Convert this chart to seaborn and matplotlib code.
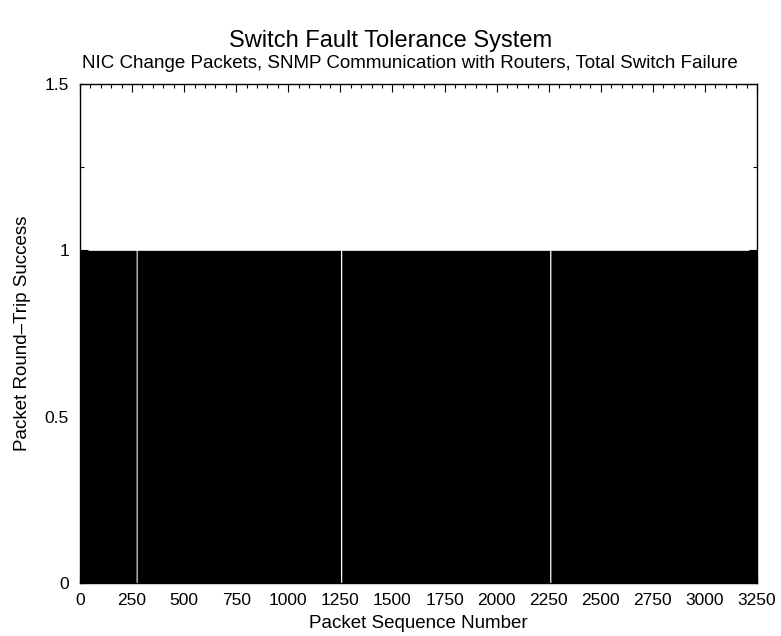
import numpy as np
import pandas as pd
import matplotlib
matplotlib.use("Agg")
import matplotlib.pyplot as plt
from matplotlib.ticker import MultipleLocator
import seaborn as sns

# Packet sequence range and the packets that failed their round trip
first_packet = 1
last_packet = 3250
lost_packets = [270, 271, 272, 273, 274,
                1251, 1252, 1253, 1254, 1255, 1256,
                2255, 2256, 2257, 2258, 2259, 2260]

x_ticks = [0, 250, 500, 750, 1000, 1250, 1500, 1750, 2000, 2250, 2500, 2750, 3000, 3250]
y_ticks = [0, 0.5, 1, 1.5]
y_tick_labels = ["0", "0.5", "1", "1.5"]

seq = np.arange(first_packet, last_packet + 1)
success = np.where(np.isin(seq, lost_packets), 0.0, 1.0)
df = pd.DataFrame({"seq": seq, "success": success})

sns.set_theme(style="ticks")
plt.rcParams["font.family"] = ["Liberation Sans", "DejaVu Sans"]
plt.rcParams["text.color"] = "black"
plt.rcParams["axes.labelcolor"] = "black"

fig = plt.figure(figsize=(7.81, 6.36), dpi=100)
ax = fig.add_axes([80 / 781, 1 - 583 / 636, 677 / 781, 499 / 636])

sns.histplot(data=df, x="seq", weights="success",
             binwidth=1, binrange=(first_packet - 0.5, last_packet + 0.5),
             element="step", fill=True, color="black", alpha=1.0,
             linewidth=0, ax=ax)

ax.set_xlim(0, 3250)
ax.set_ylim(0, 1.5)
ax.set_xticks(x_ticks)
ax.set_yticks(y_ticks)
ax.set_yticklabels(y_tick_labels)
ax.xaxis.set_minor_locator(MultipleLocator(50))
ax.yaxis.set_minor_locator(MultipleLocator(0.25))
ax.tick_params(which="both", direction="in", top=True, right=True,
               labelsize=12.5, colors="black")
ax.tick_params(axis="x", pad=7)
ax.tick_params(axis="y", pad=8)
ax.tick_params(which="major", length=6, width=0.8)
ax.tick_params(which="minor", length=3, width=0.8)
for s in ax.spines.values():
    s.set_visible(True)
    s.set_color("black")
    s.set_linewidth(1.0)

ax.set_xlabel("Packet Sequence Number", fontsize=13.5, labelpad=5)
ax.set_ylabel("Packet Round\u2013Trip Success", fontsize=13.5, labelpad=10)

fig.text(0.5, 1 - 41 / 636, "Switch Fault Tolerance System",
         ha="center", va="center", fontsize=17)
fig.text(410 / 781, 1 - 63 / 636,
         "NIC Change Packets, SNMP Communication with Routers, Total Switch Failure",
         ha="center", va="center", fontsize=13.5)

fig.savefig("out.png", dpi=100, facecolor="white")
